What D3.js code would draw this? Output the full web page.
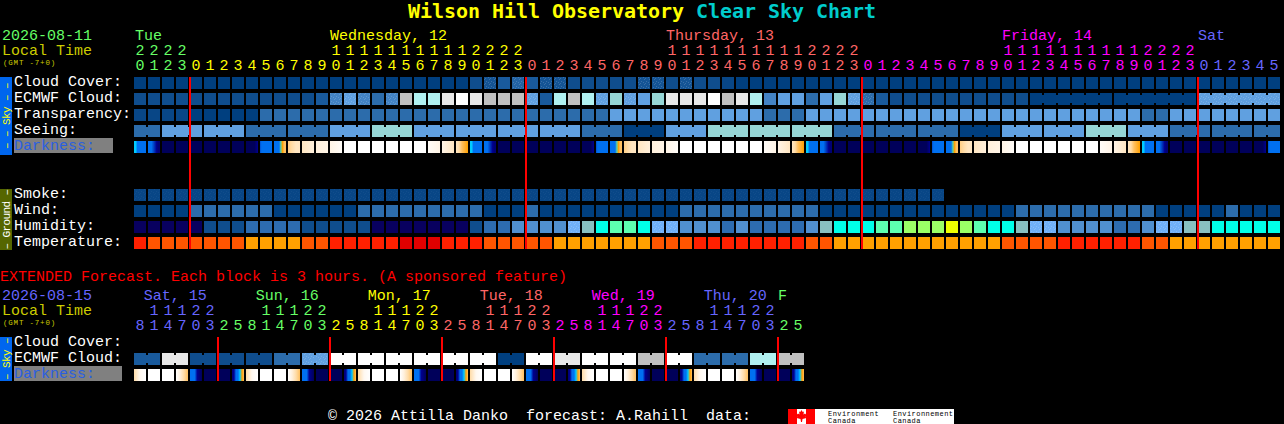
<!DOCTYPE html>
<html>
<head>
<meta charset="utf-8">
<title>Wilson Hill Observatory Clear Sky Chart</title>
<script src="https://cdn.jsdelivr.net/npm/d3@7"></script>
<style>
  html, body { margin: 0; padding: 0; background: #000; overflow: hidden; }
  svg { display: block; }
  text { font-family: "Liberation Mono", monospace; white-space: pre; }
</style>
</head>
<body>
<svg id="chart" width="1284" height="424"></svg>
<script>
// hourly block values, 0 = best level of that row's palette
const cloudCover = [
  0,0,0,0,0,0,0,0,0,0,0,0,0,0,0,0,0,0,0,0,0,0,0,0,
  1,1.5,2,2.5,2,1.5,1.5,1,1,1,1,1,1.5,1.5,1,1.5,1,1,0.5,0,
  0,0,0,0,0,0,0,0,0,0,0,0,0,0,0,0,0,0,0,0,0,0,0,0,0,0,0,0,0,0,0,0,0,0,0,0,0,0
];
const cloudDither = [25, 27, 29, 30, 36, 37, 39];
const ecmwfCloud = [
  1,1,1,1,1,1,1,1,1,1,1,1,1,2,4,5,4,3,4,8,7,7,9,10,9,8,8,8,5,2,7,8,7,5,6,5,5,6,
  9,9,9,10,8,9,7,4,5,5,3,5,6,5,3,2,1,1,1,1,1,1,1,1,1,1,
  0,0,0,0,0,0,0,0,0,0,0,0,5,5,5,5,5,5
];
const ecmwfDither = [14, 15, 16, 18, 28, 33, 35, 51, 52, 76, 77, 78, 79, 80, 81];
const ecmwfBlocks = [
  1,1,1,1,1,1,1,1,1,1,1,1,1,1,1,1,1,1,1,1,1,1,1,1,1,1,1,1,1,1,1,1,
  1,1,1,1,1,1,1,1,1,1,1,1,1,1,1,1,1,1,1,1,1,1,1,1,1,1,1,1,1,1,1,1,6,6,6
];
const transparency = [
  0.5,0.5,0.5,0.5,0,0,0,0,0,3,3,3,3,3,3,3,3,3,3,3,3,3,3,3,3,3,3,3,3,3,3,3,3,3,
  5,5,5,5,5,5,5,5,5,5,5,3,3,3,5,5,5,5,5,5,5,5,5,5,5,5,5,5,5,5,5,5,5,5,5,5,5,5,
  3,3,5,5,5,5,5,5,5,5
];
const seeingBlocks = [2,3,3,3,3,3,3,3,3,3,3,3,3,3,3,3,3,3,3,3,3,3,3,3,3,3,3,2];
const seeingValues = [3,5,5,3,3,5,6,5,5,5,5,3,0,5,6,6,6,3,3,3,0,5,5,6,5,3,3,3];

// darkness: each block shades left to right through these levels
const N = [0], W = [11];
const dusk1 = [4,4,3,3,3,3,3,3], dusk2 = [3,3,3,2,1.5,1,0.5,0.5];
const dawn0 = [0,0,0,0,0,0,0.5,1], dawn1 = [2,3,3,3,3,3,3,3], dawn2 = [3,3,3,3,5,6,7,7];
const rise1 = [7.5,8,8.5,8.5], rise2 = [8.5,9], rise3 = [9,9.5], rise4 = [9.5,10.5];
const set1 = [10.5,9.5], set2 = [9.5,8.5], set3 = [8.5,8,7,6.5,6];
const darkness = [
  dusk1,dusk2,N,N,N,N,N,N,dawn0,dawn1,dawn2,rise1,rise2,rise3,rise4,W,W,W,W,W,W,set1,set2,set3,
  dusk1,dusk2,N,N,N,N,N,N,dawn0,dawn1,dawn2,rise1,rise2,rise3,rise4,W,W,W,W,W,W,set1,set2,set3,
  dusk1,dusk2,N,N,N,N,N,N,dawn0,dawn1,dawn2,rise1,rise2,rise3,rise4,W,W,W,W,W,W,set1,set2,set3,
  dusk1,dusk2,N,N,N,N,N,N,dawn0,dawn1
];

const smoke = [
  0.5,0.5,0.5,0.5,0.5,0.5,0.5,0.5,0.5,0.5,0.5,0.5,0.5,0.5,0.5,0.5,0.5,0.5,0.5,0.5,
  0.5,0.5,0.5,0.5,0.5,0.5,0.5,0.5,0.5,0.5,0.5,0.5,0.5,0.5,0.5,0.5,0.5,0.5,0.5,0.5,
  0.5,0.5,0.5,0.5,0.5,0.5,0.5,0.5,0.5,0.5,0.5,0.5,0.5,0.5,0.5,0.5,0.5,0.5
];
const wind = [
  0,0,0,0,3,3,3,3,3,3,0,0,0,0,0,0,3,3,3,3,3,3,3,3,3,0,0,0,3,
  0,0,0,0,0,0,0,0,0,0,3,3,3,3,3,3,3,3,3,3,
  0,0,0,0,0,0,0,0,0,0,0,0,0,0,3,3,3,3,3,3,3,3,3,3,0,0,0,0,0,3,0,0,0
];
const humidity = [
  0,0,0,0,0,1,1,1,2,2,2,2,1,1,1,1,1,0,0,0,0,0,0,0,
  1,2,2,3,3,3,3,4,5,6,7,7,6,4,4,3,3,3,2,3,2,2,2,2,3,5,6,6,
  6,7,7,8,8,8,9,8,7,6,6,5,4,4,3,3,3,3,2,2,3,4,4,5,5,6,6,6,6,6
];
const humidityDither = [31, 37, 38, 64, 65, 73, 74];
const temperature = [
  1,2,2,2,2,2,2,2,3,3,3,3,2,2,1,1,1,1,1,0,0,0,1,1,1,2,2,2,2,2,
  3,3,3,3,3,3,3,2,2,2,1,1,1,1,1,1,1,1,2,2,3,3,
  3,3,3,3,3,3,3,3,3,3,2,2,2,2,1,1,1,1,1,1,2,2,3,3,3,3,3,3,3,3
];

// extended forecast, 6 hour pairs and 3 hour darkness blocks
const extCloud = [2,9,1,1,1,3,5,10,10,10,10,10,10,0,10,9,10,10,8,10,3,3,7,8];
const extBlocks = [2,2,2,2,2,2,2,2,2,2,2,2,2,2,2,2,2,2,2,2,2,2,2,2];
const extDither = [12, 13];
const eDown = [3,3,3,1,0.5,0], eUp = [0.5,1,3,3,4,6,7], eRise = [8,10,11], eSet = [11,9,8,7];
const extDarkness = [
  eRise,W,W,eSet,eDown,N,N,eUp, eRise,W,W,eSet,eDown,N,N,eUp,
  eRise,W,W,eSet,eDown,N,N,eUp, eRise,W,W,eSet,eDown,N,N,eUp,
  eRise,W,W,eSet,eDown,N,N,eUp, eRise,W,W,eSet,eDown,N,N,eUp
];

// tick labels
const hours = [
  20,21,22,23,
  0,1,2,3,4,5,6,7,8,9,10,11,12,13,14,15,16,17,18,19,20,21,22,23,
  0,1,2,3,4,5,6,7,8,9,10,11,12,13,14,15,16,17,18,19,20,21,22,23,
  0,1,2,3,4,5,6,7,8,9,10,11,12,13,14,15,16,17,18,19,20,21,22,23,
  0,1,2,3,4,5
];
const dayStarts = [0, 4, 28, 52, 76];
const dayColors = ["#66ff66", "#ffff00", "#ff6666", "#ff00ff", "#6666ff"];
const dayLabels = [[0, "Tue"], [14, "Wednesday, 12"], [38, "Thursday, 13"], [62, "Friday, 14"], [76, "Sat"]];
const midnights = [4, 28, 52, 76];

const extHours = [
  8,11,14,17,20,23, 2,5,8,11,14,17,20,23, 2,5,8,11,14,17,20,23, 2,5,8,11,14,17,20,23,
  2,5,8,11,14,17,20,23, 2,5,8,11,14,17,20,23, 2,5
];
const extDayStarts = [0, 6, 14, 22, 30, 38, 46];
const extDayColors = ["#6666ff", "#66ff66", "#ffff00", "#ff6666", "#ff00ff", "#6666ff", "#66ff66"];
const extDayLabels = ["Sat, 15", "Sun, 16", "Mon, 17", "Tue, 18", "Wed, 19", "Thu, 20", "F"];
const extDayLabelCols = [0.7, 8.7, 16.7, 24.7, 32.7, 40.7, 46];
const extMidnights = [6, 14, 22, 30, 38, 46];

const cloudPalette = ["#003f7f", "#0f4d8d", "#195a9c", "#2c6cab", "#4383c4", "#60a0e0",
                      "#96d6d6", "#b0f0f0", "#c0c0c0", "#e8e8e8", "#ffffff"];
const humidityPalette = ["#08005f", "#0f4d8d", "#2d6cb0", "#5090d0", "#70b0f8", "#88c0c0",
                         "#00ffe8", "#5dffb0", "#9bff66", "#eeff00"];
const temperaturePalette = ["#e00000", "#ff2000", "#ff5500", "#ffa000"];
const darknessPalette = ["#00005a", "#000090", "#0050d0", "#0070f0", "#00ccff", "#60d0a0",
                         "#ffa000", "#ffc060", "#ffdca8", "#fff0dc", "#fff8f0", "#ffffff"];

const ramp = (colors) => d3.scaleLinear().domain(d3.range(colors.length)).range(colors);
const cloudColor = ramp(cloudPalette);
const humidityColor = ramp(humidityPalette);
const temperatureColor = ramp(temperaturePalette);
const darknessColor = ramp(darknessPalette);

const svg = d3.select("#chart");
const defs = svg.append("defs");

function dotPattern(id, opacity) {
  const p = defs.append("pattern").attr("id", id)
    .attr("width", 5).attr("height", 5).attr("patternUnits", "userSpaceOnUse");
  [[1, 1], [3, 2], [0, 3], [4, 4]].forEach(([a, b]) => {
    p.append("rect").attr("x", a).attr("y", b).attr("width", 1).attr("height", 1)
      .attr("fill", "#fff").attr("opacity", opacity);
  });
}
dotPattern("dots", 0.16);
dotPattern("faint", 0.04);

const x = d3.scaleLinear().domain([0, 82]).range([134, 1282]);
const cellW = x(1) - x(0) - 2;
const y = d3.scaleLinear().domain([0, 1]).range([77, 93]);
const yExt = d3.scaleLinear().domain([0, 1]).range([337, 353]);
const cellH = 12;

const g = svg.append("g").attr("shape-rendering", "crispEdges");
const labels = svg.append("g");

function text(str, px, py, color, size = 15, pitch = 9) {
  return labels.append("text")
    .attr("x", px).attr("y", py)
    .attr("fill", color)
    .attr("font-size", size)
    .attr("letter-spacing", pitch - size * 0.6)
    .text(str);
}

function drawRow(values, rowY, color, blocks, dither, pattern = "dots") {
  const row = g.append("g");
  row.selectAll("rect.cell").data(values).join("rect")
    .attr("class", "cell")
    .attr("x", (d, i) => x(i))
    .attr("y", rowY)
    .attr("width", cellW)
    .attr("height", cellH)
    .attr("fill", (d) => color(d));

  // cells of one forecast block are tied together by a narrower bridge
  if (blocks) {
    const bridges = [];
    let col = 0;
    blocks.forEach((n) => {
      for (let k = 0; k < n - 1; k++) bridges.push(col + k);
      col += n;
    });
    row.selectAll("rect.bridge").data(bridges).join("rect")
      .attr("class", "bridge")
      .attr("x", (d) => x(d) + cellW)
      .attr("y", rowY + 2)
      .attr("width", 2)
      .attr("height", cellH - 4)
      .attr("fill", (d) => color(values[d]));
  }
  if (dither) {
    row.selectAll("rect.dither").data(dither).join("rect")
      .attr("class", "dither")
      .attr("x", (d) => x(d))
      .attr("y", rowY)
      .attr("width", cellW)
      .attr("height", cellH)
      .attr("fill", `url(#${pattern})`);
  }
}

function drawDarkness(cells, rowY, prefix) {
  cells.forEach((stops, i) => {
    const id = `${prefix}${i}`;
    const grad = defs.append("linearGradient").attr("id", id);
    stops.forEach((s, k) => {
      grad.append("stop")
        .attr("offset", stops.length > 1 ? k / (stops.length - 1) : 0)
        .attr("stop-color", darknessColor(s));
    });
  });
  g.append("g").selectAll("rect").data(cells).join("rect")
    .attr("x", (d, i) => x(i))
    .attr("y", rowY)
    .attr("width", cellW)
    .attr("height", cellH)
    .attr("fill", (d, i) => `url(#${prefix}${i})`);
}

function sideBar(top, bottom, fill, color, str) {
  g.append("rect").attr("x", 0).attr("y", top).attr("width", 12).attr("height", bottom - top).attr("fill", fill);
  labels.append("text")
    .attr("transform", `translate(9.5,${(top + bottom) / 2}) rotate(-90)`)
    .attr("text-anchor", "middle")
    .attr("fill", color)
    .attr("font-size", 11)
    .attr("letter-spacing", 6 - 11 * 0.6)
    .text(str);
}

function colorFor(i, starts, colors) {
  return colors[d3.bisectRight(starts, i) - 1];
}

// title
const title = labels.append("text").attr("x", 408).attr("y", 18)
  .attr("font-size", 20).attr("font-weight", "bold")
  .style("font-family", "'DejaVu Sans Mono', monospace")
  .attr("letter-spacing", 12 - 20 * 0.602);
title.append("tspan").attr("fill", "#ffff00").text("Wilson Hill Observatory ");
title.append("tspan").attr("fill", "#00cccc").text("Clear Sky Chart");

// header of the hourly chart
text("2026-08-11", 2, 40, "#66ff66");
text("Local Time", 2, 55, "#cccc00");
text("(GMT -7+0)", 3, 65.4, "#cccc00", 7.5, 5.3);
dayLabels.forEach(([col, str], i) => text(str, x(col) + (i === 0 ? 1 : 0), 40, dayColors[i]));
hours.forEach((h, i) => {
  const c = colorFor(i, dayStarts, dayColors);
  text(String(h % 10), x(i) + cellW / 2, 70, c).attr("text-anchor", "middle");
  if (h >= 10) text(String(Math.floor(h / 10)), x(i) + cellW / 2, 55, c).attr("text-anchor", "middle");
});

// sky rows
drawRow(cloudCover, y(0), cloudColor, null, cloudDither);
drawRow(ecmwfCloud, y(1), cloudColor, ecmwfBlocks, ecmwfDither);
drawRow(transparency, y(2), cloudColor);
drawRow(seeingBlocks.flatMap((n, i) => d3.range(n).map(() => seeingValues[i])), y(3), cloudColor, seeingBlocks);
drawDarkness(darkness, y(4), "dark");

// ground rows
drawRow(smoke, y(7), cloudColor, null, d3.range(smoke.length), "faint");
drawRow(wind, y(8), cloudColor);
drawRow(humidity, y(9), humidityColor, null, humidityDither);
drawRow(temperature, y(10), temperatureColor);

g.append("g").selectAll("rect").data(midnights).join("rect")
  .attr("x", (d) => x(d) - 1).attr("y", y(0))
  .attr("width", 2).attr("height", y(10) + cellH - y(0))
  .attr("fill", "#ff0000");

sideBar(77, 155, "#0066ee", "#ffff00", "\u2013 \u2013 Sky \u2013 \u2013");
sideBar(189, 250, "#556600", "#ffffff", "\u2013 Ground \u2013");

g.append("rect").attr("x", 14).attr("y", 138).attr("width", 99).attr("height", 15).attr("fill", "#808080");
["Cloud Cover:", "ECMWF Cloud:", "Transparency:", "Seeing:"].forEach((s, i) => text(s, 14, y(i) + 9, "#ffffff"));
text("Darkness:", 14, y(4) + 9, "#2a5fe0");
["Smoke:", "Wind:", "Humidity:", "Temperature:"].forEach((s, i) => text(s, 14, y(7 + i) + 8.5, "#ffffff"));

// extended forecast
text("EXTENDED Forecast. Each block is 3 hours. (A sponsored feature)", 0, 280.5, "#ff0000");
text("2026-08-15", 2, 300, "#6666ff");
text("Local Time", 2, 315, "#cccc00");
text("(GMT -7+0)", 3, 325.4, "#cccc00", 7.5, 5.3);
extDayLabels.forEach((s, i) => text(s, x(extDayLabelCols[i]), 300, extDayColors[i]));
extHours.forEach((h, i) => {
  const c = colorFor(i, extDayStarts, extDayColors);
  text(String(h % 10), x(i) + cellW / 2, 330, c).attr("text-anchor", "middle");
  if (h >= 10) text(String(Math.floor(h / 10)), x(i) + cellW / 2, 315, c).attr("text-anchor", "middle");
});

drawRow(extCloud.flatMap((v) => [v, v]), yExt(1), cloudColor, extBlocks, extDither);
drawDarkness(extDarkness, yExt(2), "ext");

g.append("g").selectAll("rect").data(extMidnights).join("rect")
  .attr("x", (d) => x(d) - 1).attr("y", yExt(0))
  .attr("width", 2).attr("height", yExt(2) + cellH - yExt(0))
  .attr("fill", "#ff0000");

sideBar(337, 381, "#0066ee", "#ffff00", "\u2013 Sky \u2013");
g.append("rect").attr("x", 14).attr("y", 366).attr("width", 108).attr("height", 15).attr("fill", "#808080");
text("Cloud Cover:", 14, yExt(0) + 9, "#ffffff");
text("ECMWF Cloud:", 14, yExt(1) + 9, "#ffffff");
text("Darkness:", 14, yExt(2) + 9, "#2a5fe0");

// footer and logo
text("\u00a9 2026 Attilla Danko  forecast: A.Rahill  data:", 328, 420, "#ffffff");
g.append("rect").attr("x", 788).attr("y", 409).attr("width", 166).attr("height", 15).attr("fill", "#ffffff");
g.append("rect").attr("x", 788).attr("y", 409).attr("width", 9).attr("height", 15).attr("fill", "#ff0000");
g.append("rect").attr("x", 806).attr("y", 409).attr("width", 9).attr("height", 15).attr("fill", "#ff0000");
labels.append("path")
  .attr("transform", "translate(801.5,410)")
  .attr("fill", "#ff0000")
  .attr("d", "M0,0 L1.2,2 L2.4,1.5 L2,4.5 L3.5,3.5 L5,5 L4.2,7 L5,8 L1,9 L0.5,12 L-0.5,12 L-1,9 L-5,8 L-4.2,7 L-5,5 L-3.5,3.5 L-2,4.5 L-2.4,1.5 L-1.2,2 Z");
[["Environment", 828], ["Environnement", 893]].forEach(([s, px]) => {
  text(s, px, 415.5, "#000000", 7, 4.65);
  text("Canada", px, 423, "#000000", 7, 4.65);
});
</script>
</body>
</html>
